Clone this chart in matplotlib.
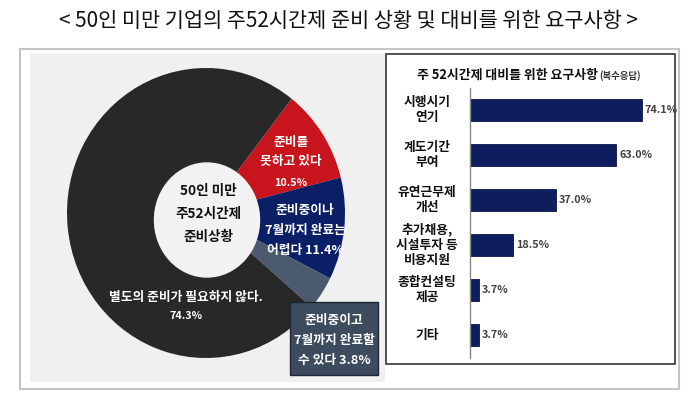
import matplotlib
matplotlib.use("Agg")
import matplotlib.pyplot as plt
from matplotlib.patches import Rectangle, Ellipse

plt.rcParams['font.family'] = ['Noto Sans CJK KR', 'DejaVu Sans']

# data
title = "< 50인 미만 기업의 주52시간제 준비 상황 및 대비를 위한 요구사항 >"
pie_labels = ["준비를\n못하고 있다", "준비중이나\n7월까지 완료는\n어렵다", "준비중이고\n7월까지 완료할\n수 있다",
              "별도의 준비가 필요하지 않다."]
pie_values = [10.5, 11.4, 3.8, 74.3]
pie_colors = ['#c8141c', '#0b1f66', '#4b5a6e', '#282828']
center_label = "50인 미만\n주52시간제\n준비상황"

bar_title = "주 52시간제 대비를 위한 요구사항"
bar_note = "(복수응답)"
bar_cats = ["시행시기\n연기", "계도기간\n부여", "유연근무제\n개선", "추가채용,\n시설투자 등\n비용지원",
            "종합컨설팅\n제공", "기타"]
bar_values = [74.1, 63.0, 37.0, 18.5, 3.7, 3.7]

W, H = 699, 411
fig = plt.figure(figsize=(W / 100, H / 100), dpi=100)
fig.patch.set_facecolor('white')


def fx(x):
    return x / W


def fy(y):
    return 1 - y / H


def rect(x0, y0, x1, y1, zorder=-1, **kw):
    r = Rectangle((fx(x0), fy(y1)), fx(x1) - fx(x0), fy(y0) - fy(y1), transform=fig.transFigure,
                  zorder=zorder, **kw)
    fig.add_artist(r)


# frames
rect(20, 49, 679, 389, facecolor='white', edgecolor='#c4c4c4', lw=1.5, zorder=-3)
rect(30, 53, 385, 382, facecolor='#f0f0f0', edgecolor='none', zorder=-2)
rect(386, 54, 675, 364, facecolor='white', edgecolor='#333333', lw=1.2, zorder=-2)

fig.text(fx(348), fy(21), title, ha='center', va='center', fontsize=15, color='#111111')

# donut (picture is slightly stretched vertically)
cx, cy, rx, ry = 206, 213, 139, 145
axp = fig.add_axes([fx(cx - rx), fy(cy + ry), 2 * rx / W, 2 * ry / H])
axp.set_zorder(1)
axp.pie(pie_values, colors=pie_colors, startangle=52, counterclock=False, radius=1,
        wedgeprops=dict(edgecolor='none'))
axp.add_patch(Ellipse((1 / rx, -7 / ry), 2 * 52.5 / rx, 2 * 57 / ry, color='#f2f2f2', zorder=3))
axp.set_aspect('auto')
axp.set_xlim(-1, 1)
axp.set_ylim(-1, 1)
axp.axis('off')
for t in axp.patches:
    t.set_clip_on(False)

fig.text(fx(208), fy(214), center_label, ha='center', va='center', fontsize=9.8,
         fontweight='bold', color='#111111', linespacing=1.8, zorder=4)

lbl = dict(ha='center', va='center', color='white', fontweight='bold', zorder=4)
fig.text(fx(291), fy(152), pie_labels[0], fontsize=9.2, linespacing=1.65, **lbl)
fig.text(fx(291), fy(183), f"{pie_values[0]}%", fontsize=7.8, **lbl)
fig.text(fx(305), fy(230), pie_labels[1] + f" {pie_values[1]}%", fontsize=9.2, linespacing=1.7, **lbl)
fig.text(fx(186), fy(297), pie_labels[3], fontsize=9.2, **lbl)
fig.text(fx(186), fy(316), f"{pie_values[3]}%", fontsize=7.8, **lbl)
rect(290, 302, 378, 375, facecolor='#3d4b5f', edgecolor='#1e2633', lw=1, zorder=5)
lbl['zorder'] = 6
fig.text(fx(334), fy(340), pie_labels[2] + f" {pie_values[2]}%", fontsize=9.2, linespacing=1.7, **lbl)

# bars
ppx = 2.32
x0 = 470
top, bot = 88, 358
axb = fig.add_axes([fx(x0), fy(bot), 80 * ppx / W, (bot - top) / H])
axb.set_zorder(1)
axb.set_facecolor('none')
ypos = list(range(len(bar_values)))
axb.barh(ypos, bar_values, height=0.49, color='#0d1d5e', edgecolor='#0a1445', lw=0.6)
axb.set_xlim(0, 80)
axb.set_ylim((bot - 110) / 45, (top - 110) / 45)
for s in ['top', 'right', 'bottom']:
    axb.spines[s].set_visible(False)
axb.spines['left'].set_color('#888888')
axb.spines['left'].set_linewidth(1)
axb.set_xticks([])
axb.set_yticks([])
for i, v in enumerate(bar_values):
    axb.text(v + 1.3, i, f"{v:.1f}%", va='center', ha='left', fontsize=7.8, fontweight='bold',
             color='#404040')
    fig.text(fx(427), fy(110 + 45 * i), bar_cats[i], ha='center', va='center', fontsize=9.2,
             fontweight='bold', color='#111111', linespacing=1.2)

bt = fig.text(fx(417), fy(75), bar_title, ha='left', va='center', fontsize=9.3, fontweight='bold',
              color='#111111')
fig.canvas.draw()
ext = bt.get_window_extent()
fig.text(ext.x1 / W + 1 / W, fy(76), bar_note, ha='left', va='center', fontsize=6.8, fontweight='bold',
         color='#333333')

fig.savefig('out.png', dpi=100, facecolor='white')
